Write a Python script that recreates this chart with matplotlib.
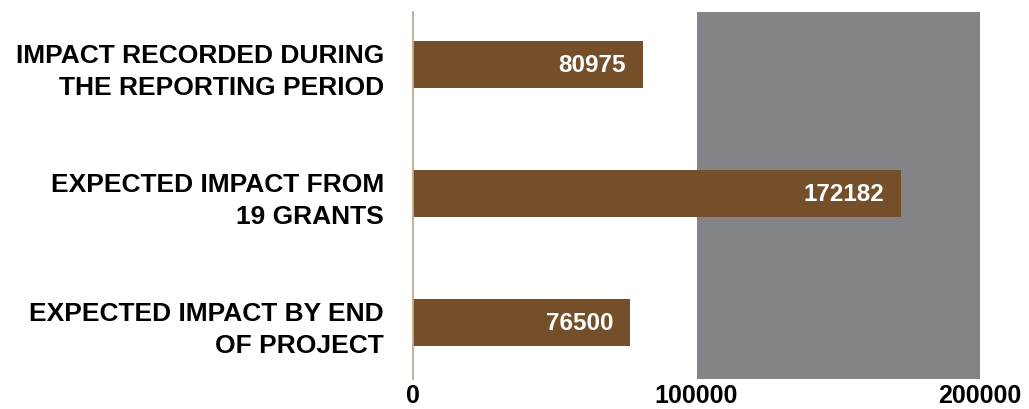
import matplotlib

matplotlib.use("Agg")
import matplotlib.pyplot as plt
import numpy as np

categories = [
    "IMPACT RECORDED DURING\nTHE REPORTING PERIOD",
    "EXPECTED IMPACT FROM\n19 GRANTS",
    "EXPECTED IMPACT BY END\nOF PROJECT",
]
values = [80975, 172182, 76500]
xticks = [0, 100000, 200000]
band = (100000, 200000)

BAR = "#754F2A"
BAND = "#838488"
SPINE = "#C2A890"

plt.rcParams.update({
    "font.family": ["Liberation Sans", "DejaVu Sans"],
    "font.weight": "bold",
})

fig = plt.figure(figsize=(10.29, 4.10), dpi=100)
ax = fig.add_axes([0.4014, 0.0732, 0.551, 0.8951])

# grey band behind the upper half of the scale
ax.axvspan(*band, color=BAND, zorder=0, lw=0)
pos = np.arange(len(categories))
ax.barh(pos, values, height=0.364, color=BAR, zorder=2)

for y, v in zip(pos, values):
    ax.annotate(str(v), xy=(v, y), xytext=(-12, 0), textcoords="offset points",
                ha="right", va="center", color="white", fontsize=17.5,
                fontweight="bold", zorder=3)

ax.set_xlim(0, 200000)
ax.set_ylim(2.438, -0.407)
ax.set_yticks(pos)
ax.set_yticklabels(categories, fontsize=19, fontweight="bold", linespacing=1.4)
ax.set_xticks(xticks)
ax.set_xticklabels([str(t) for t in xticks], fontsize=18, fontweight="bold")
ax.tick_params(length=0)
ax.tick_params(axis="y", pad=21)
ax.tick_params(axis="x", pad=3)

for side in ("top", "right", "bottom"):
    ax.spines[side].set_visible(False)
ax.spines["left"].set_color(SPINE)
ax.spines["left"].set_linewidth(1.3)
ax.spines["left"].set_zorder(4)

fig.savefig("out.png", dpi=100)
